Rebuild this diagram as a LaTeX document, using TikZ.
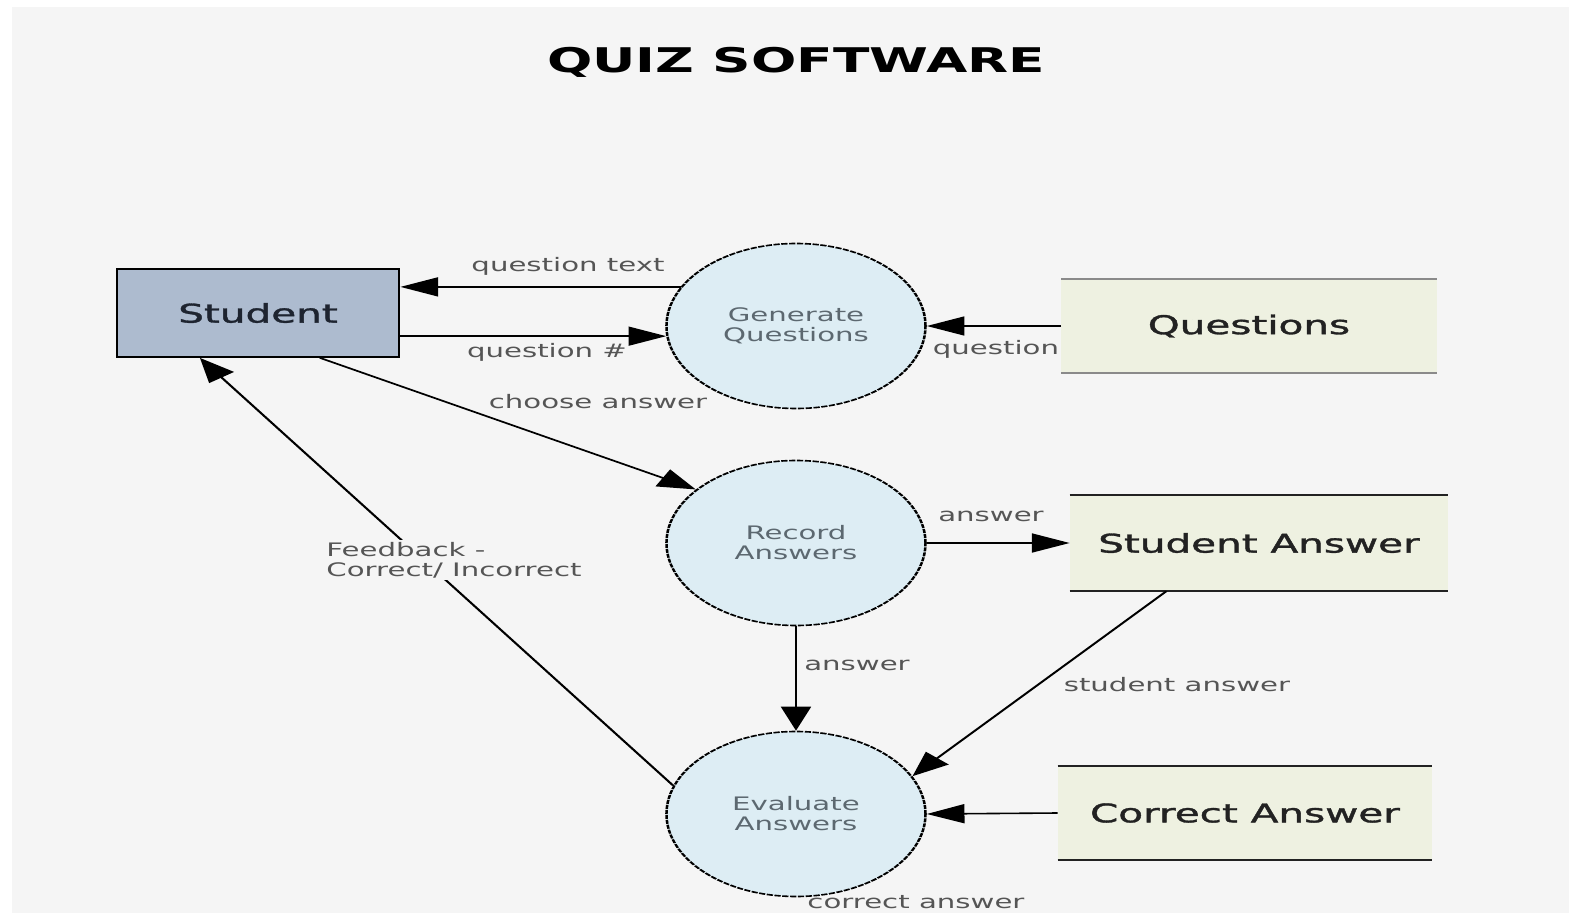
\documentclass[tikz,border=0pt]{standalone}
\usepackage{fontspec}
\setmainfont{DejaVu Sans}
\newfontfamily\heavyfont[FakeBold=1.2]{DejaVu Sans}
\usetikzlibrary{arrows.meta}

\definecolor{pagegray}{HTML}{F5F5F5}
\definecolor{actorfill}{HTML}{ADBBCF}
\definecolor{procfill}{HTML}{DDEDF4}
\definecolor{storefill}{HTML}{EEF1E1}
\definecolor{proctext}{HTML}{5C6870}
\definecolor{flowtext}{HTML}{555555}
\definecolor{storetext}{HTML}{222222}
\definecolor{actortext}{HTML}{1E2430}
\definecolor{lightrule}{HTML}{8A8A8A}

\tikzset{
  actor/.style={draw=black, line width=1.8pt, fill=actorfill, minimum width=179.6pt,
    minimum height=88pt, inner sep=0pt, text=actortext,
    font=\heavyfont\fontsize{25.8}{30}\selectfont},
  process/.style={circle, draw=black, line width=1.6pt, dash pattern=on 4pt off 1pt,
    fill=procfill, minimum size=165pt, inner sep=0pt, align=center, text=proctext,
    font=\fontsize{18.6}{20}\selectfont},
  store/.style={fill=storefill, minimum height=94pt, inner sep=0pt, text=storetext,
    font=\heavyfont\fontsize{25.8}{30}\selectfont},
  storeline/.style={line width=1.8pt, draw=#1},
  flow/.style={line width=1.6pt, draw=black, -{Triangle[length=24pt,width=19pt]}},
  flowlabel/.style={inner sep=0pt, text=flowtext, font=\fontsize{18.6}{20}\selectfont}
}

\begin{document}
\begin{tikzpicture}[x=1pt, y=-1pt]
  \useasboundingbox (0,0) rectangle (1569,915);
  \fill[white] (0,0) rectangle (1569,915);
  \fill[pagegray] (12,7) rectangle (1569,913);

  % the drawing is laid out in px and stretched horizontally as a whole
  \begin{scope}[x=0.63694pt, y=-1pt, transform canvas={xscale=1.57}]
    % title
    \node[inner sep=0pt, font=\bfseries\fontsize{34}{40}\selectfont] (title) at (796,62) {QUIZ SOFTWARE};

    % external entity
    \node[actor] (stu) at (258,313) {Student};

    % processes
    \node[process] (gen) at (796,326) {Generate\\Questions};
    \node[process] (rec) at (796,543) {Record\\Answers};
    \node[process] (eva) at (796,814) {Evaluate\\Answers};

    % data stores
    \node[store, minimum width=238.9pt, minimum height=93pt] (qs) at (1249,326) {Questions};
    \node[store, minimum width=240.8pt, minimum height=96pt] (sa) at (1259,543) {Student Answer};
    \node[store, minimum width=238.2pt] (ca) at (1245,813) {Correct Answer};
    \draw[storeline=lightrule] (qs.north west) -- (qs.north east);
    \draw[storeline=lightrule] (qs.south west) -- (qs.south east);
    \draw[storeline=storetext] (sa.north west) -- (sa.north east);
    \draw[storeline=storetext] (sa.south west) -- (sa.south east);
    \draw[storeline=storetext] (ca.north west) -- (ca.north east);
    \draw[storeline=storetext] (ca.south west) -- (ca.south east);

    % data flows
    \draw[flow] (gen.152) -- (gen.152 -| stu.east);
    \draw[flow] (gen.187 -| stu.east) -- (gen.187);
    \draw[flow] (qs.west) -- (gen.east);
    \draw[flow] ([xshift=39.5pt]stu.south) -- (rec.140);
    \draw[flow] (rec.east) -- (sa.west);
    \draw[flow] (rec.south) -- (eva.north);
    \draw[flow] ([xshift=-59pt]sa.south) -- (eva.27);
    \draw[flow] (ca.west) -- (eva.east);
    \draw[flow] (eva.160) -- ([xshift=-37pt]stu.south);

    % flow labels
    \node[flowlabel] (l1) at (568,266) {question text};
    \node[flowlabel] (l2) at (547,352) {question \#};
    \node[flowlabel] (l3) at (996,349) {question};
    \node[flowlabel] (l4) at (598,402) {choose answer};
    \node[flowlabel] (l5) at (991,516) {answer};
    \node[flowlabel] (l6) at (857,665) {answer};
    \node[flowlabel] (l7) at (1177,685) {student answer};
    \node[flowlabel] (l8) at (916,902) {correct answer};
    \node[flowlabel, anchor=west, align=left, fill=pagegray, inner sep=2pt] (l9) at (323,560) {Feedback -\\Correct/ Incorrect};
  \end{scope}
\end{tikzpicture}
\end{document}
